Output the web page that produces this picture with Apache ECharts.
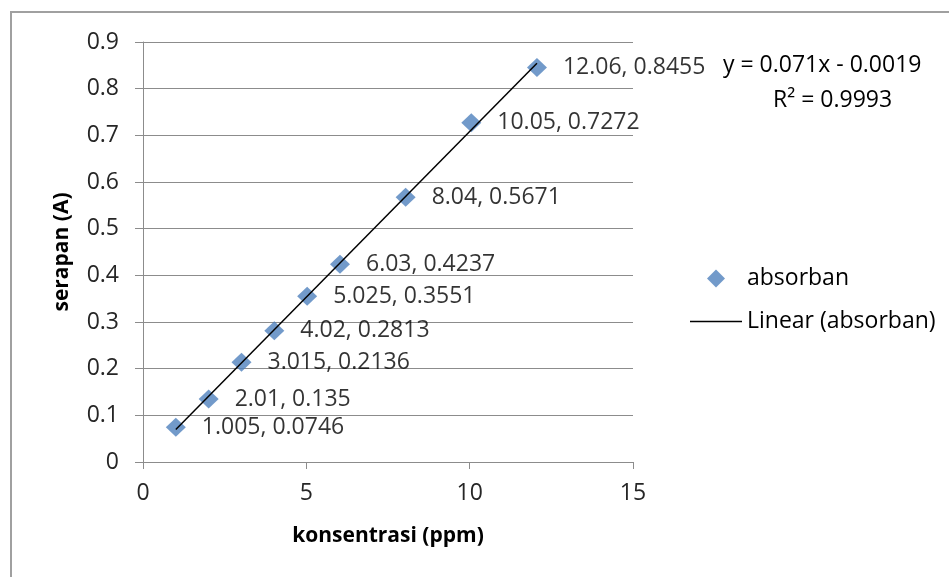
<!DOCTYPE html>
<html>
<head>
<meta charset="utf-8">
<script src="https://cdn.jsdelivr.net/npm/echarts@6/dist/echarts.min.js"></script>
<style>
  html, body { margin: 0; padding: 0; background: #fff; }
  #chart { width: 949px; height: 577px; }
</style>
</head>
<body>
<div id="chart"></div>
<script>
// Calibration data: concentration (ppm) vs absorbance
var konsentrasi = [1.005, 2.01, 3.015, 4.02, 5.025, 6.03, 8.04, 10.05, 12.06];
var absorban = [0.0746, 0.135, 0.2136, 0.2813, 0.3551, 0.4237, 0.5671, 0.7272, 0.8455];

// Linear trendline endpoints (y = 0.071x - 0.0019 over the data range)
var trendX = [1.005, 12.06];
var trendY = [0.0695, 0.8544];

var equationText = 'y = 0.071x - 0.0019';
var r2Text = 'R² = 0.9993';

var FONT = '"Open Sans", sans-serif';

var pts = konsentrasi.map(function (x, i) { return [x, absorban[i]]; });
var trend = trendX.map(function (x, i) { return [x, trendY[i]]; });

var chart = echarts.init(document.getElementById('chart'), null, { renderer: 'canvas' });

chart.setOption({
  animation: false,
  backgroundColor: '#ffffff',
  textStyle: { fontFamily: FONT },
  grid: { left: 143, top: 42, width: 490, height: 420, containLabel: false },
  xAxis: {
    type: 'value',
    min: 0, max: 15, interval: 5,
    name: 'konsentrasi (ppm)',
    nameLocation: 'middle',
    nameGap: 64,
    nameTextStyle: { fontFamily: FONT, fontSize: 21, fontWeight: 'bold', color: '#000' },
    axisLine: { show: true, onZero: false, lineStyle: { color: '#8c8c8c', width: 1 } },
    axisTick: { show: true, inside: false, length: 7, lineStyle: { color: '#8c8c8c' } },
    axisLabel: { margin: 20, fontFamily: FONT, fontSize: 23, color: '#262626' },
    splitLine: { show: false }
  },
  yAxis: {
    type: 'value',
    min: 0, max: 0.9, interval: 0.1,
    name: 'serapan (A)',
    nameLocation: 'middle',
    nameGap: 70,
    nameTextStyle: { fontFamily: FONT, fontSize: 21, fontWeight: 'bold', color: '#000' },
    axisLine: { show: true, lineStyle: { color: '#8c8c8c', width: 1 } },
    axisTick: { show: true, inside: false, length: 8, lineStyle: { color: '#8c8c8c' } },
    axisLabel: {
      margin: 24, fontFamily: FONT, fontSize: 23, color: '#262626',
      formatter: function (v) { return String(Math.round(v * 10) / 10); }
    },
    splitLine: { show: true, lineStyle: { color: '#8c8c8c', width: 1 } }
  },
  legend: {
    orient: 'vertical',
    left: 685,
    top: 262,
    itemWidth: 52,
    itemHeight: 18,
    itemGap: 20,
    symbolKeepAspect: true,
    textStyle: { fontFamily: FONT, fontSize: 23, color: '#000' },
    data: [
      {
        name: 'absorban',
        icon: 'path://M9,0 L18,9 L9,18 L0,9 Z',
        itemStyle: { color: '#4F81BD', borderWidth: 0 }
      },
      {
        name: 'Linear (absorban)',
        icon: 'path://M0,0 L52,0 L52,1.5 L0,1.5 Z',
        itemStyle: { color: '#000', borderWidth: 0 },
        lineStyle: { width: 0, opacity: 0 }
      }
    ]
  },
  graphic: [
    {
      type: 'rect',
      shape: { x: 11, y: 12, width: 960, height: 600 },
      style: { fill: 'none', stroke: '#a0a0a0', lineWidth: 2 },
      silent: true, z: -10
    },
    {
      type: 'text',
      left: 723, top: 54,
      style: { text: equationText, font: '23px ' + FONT, fill: '#000' }
    },
    {
      type: 'text',
      left: 773, top: 89,
      style: { text: r2Text, font: '23px ' + FONT, fill: '#000' }
    }
  ],
  series: [
    {
      name: 'Linear (absorban)',
      type: 'line',
      data: trend,
      symbol: 'none',
      lineStyle: { color: '#000', width: 1.5 },
      itemStyle: { color: '#000' },
      z: 3,
      silent: true
    },
    {
      name: 'absorban',
      type: 'scatter',
      data: pts,
      symbol: 'diamond',
      symbolSize: [20, 19],
      itemStyle: { color: '#4F81BD' },
      z: 2,
      label: {
        show: true,
        position: 'right',
        distance: 16,
        fontFamily: FONT,
        fontSize: 23,
        color: '#000',
        formatter: function (p) { return p.value[0] + ', ' + p.value[1]; }
      }
    }
  ]
});
</script>
</body>
</html>
